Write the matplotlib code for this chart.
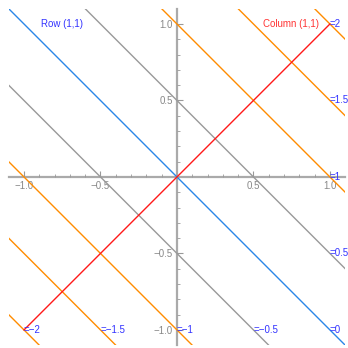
import matplotlib
matplotlib.use("Agg")
import matplotlib.pyplot as plt
import numpy as np

plt.rcParams['font.family'] = ['Liberation Sans', 'DejaVu Sans']

# level values for x + y = c
gray_levels = [-0.5, 0.5]
orange_levels = [-2, -1.5, -1, 1, 1.5, 2]
blue_levels = [0]
# column line y = x drawn between these x values
col_x = [-1.0, 1.0]
# label anchor points and texts
label_x = [1, 1, 1, 1, 1, -1, -0.5, 0, 0.5]
label_y = [1, 0.5, 0, -0.5, -1, -1, -1, -1, -1]
label_txt = ["=2", "=1.5", "=1", "=0.5", "=0", "=-2", "=-1.5", "=-1", "=-0.5"]
ticks = [-1.0, -0.5, 0.5, 1.0]
tick_labels = ["\u22121.0", "\u22120.5", "0.5", "1.0"]

fig = plt.figure(figsize=(3.48, 3.48), dpi=100)
ax = fig.add_axes([0.025, 0.008, 0.967, 0.967])
xlim = (-1.1, 1.1)
ylim = (-1.1, 1.1)
xs = np.array([-3.0, 3.0])

for c in gray_levels:
    ax.plot(xs, c - xs, color='#999999', lw=1.0, zorder=2)
for c in orange_levels:
    ax.plot(xs, c - xs, color='#ff8c00', lw=1.0, zorder=2)
for c in blue_levels:
    ax.plot(xs, c - xs, color='#2a86e8', lw=1.0, zorder=3)
ax.plot(col_x, col_x, color='#ff1a1a', lw=1.0, zorder=3)

for x, y, t in zip(label_x, label_y, label_txt):
    ax.text(x, y, t.replace('-', '\u2212'), color='#3333ff', fontsize=7,
            ha='left', va='center', zorder=5)

ax.text(-0.75, 1.0, "Row (1,1)", color='#3333ff', fontsize=7, ha='center', va='center')
ax.text(0.745, 1.0, "Column (1,1)", color='#ff3333', fontsize=7, ha='center', va='center')

ax.set_xlim(*xlim)
ax.set_ylim(*ylim)
for s in ['top', 'right']:
    ax.spines[s].set_visible(False)
for s in ['left', 'bottom']:
    ax.spines[s].set_position('zero')
    ax.spines[s].set_color('#aaaaaa')
    ax.spines[s].set_linewidth(1.6)
    ax.spines[s].set_zorder(1)

ax.set_xticks(ticks)
ax.set_xticklabels(tick_labels)
ax.set_yticks(ticks)
ax.set_yticklabels(tick_labels)
minor = [v for v in np.round(np.arange(-1.0, 1.01, 0.1), 2) if abs(v) > 1e-9 and abs(abs(v) - 0.5) > 1e-9 and abs(abs(v) - 1.0) > 1e-9]
ax.set_xticks(minor, minor=True)
ax.set_yticks(minor, minor=True)
ax.tick_params(which='major', direction='in', length=4, width=0.8, color='#999999',
               labelcolor='#888888', labelsize=7, pad=3)
ax.tick_params(which='minor', direction='in', length=2, width=0.6, color='#999999')
ax.patch.set_visible(False)

fig.savefig("out.png", dpi=100)
